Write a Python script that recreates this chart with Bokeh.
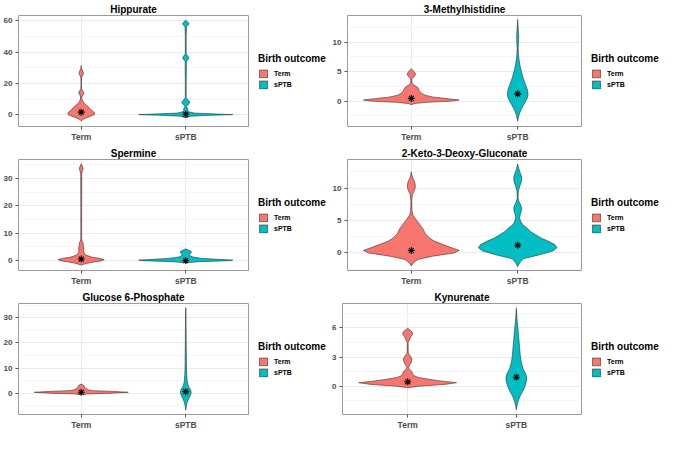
from bokeh.plotting import figure
from bokeh.models import FixedTicker, Legend, LegendItem, Range1d
from bokeh.layouts import column, row
from bokeh.embed import file_html
from bokeh.resources import INLINE

CATEGORIES = ["Term", "sPTB"]
COLORS = ["#F8766D", "#00BFC4"]
LEGEND_TITLE = "Birth outcome"

# ---- Hippurate ----
HIPP_TERM_Y = [-3.9, -3, -2, -1, 0, 1, 2, 3, 4.5, 6, 8, 10, 12, 13, 14, 15, 16.5, 20, 24, 25.5, 26.7, 28, 29.5, 31.5]
HIPP_TERM_W = [0, 0.02, 0.05, 0.09, 0.125, 0.128, 0.115, 0.095, 0.075, 0.05, 0.02, 0.006, 0.008, 0.02, 0.024, 0.018, 0.004, 0.002, 0.004, 0.016, 0.021, 0.014, 0.004, 0]
HIPP_SPTB_Y = [-2, -1, -0.4, 0, 0.4, 1, 2, 3, 3.5, 4.2, 5.5, 6.5, 8, 9.5, 11, 20, 34, 35.5, 36.5, 37.5, 39, 50, 56.5, 57.5, 58.4, 59.3, 60.5]
HIPP_SPTB_W = [0, 0.05, 0.25, 0.45, 0.3, 0.08, 0.02, 0.018, 0.024, 0.014, 0.006, 0.025, 0.04, 0.02, 0.004, 0.004, 0.006, 0.024, 0.03, 0.02, 0.004, 0.004, 0.008, 0.026, 0.03, 0.02, 0]
HIPP_MEDIANS = [1.6, 0.2]

# ---- 3-Methylhistidine ----
METH_TERM_Y = [-0.6, -0.4, -0.2, 0, 0.2, 0.4, 0.7, 1.0, 1.3, 1.6, 1.9, 2.2, 2.5, 2.8, 3.2, 3.8, 4.2, 4.6, 5.0, 5.5]
METH_TERM_W = [0, 0.03, 0.15, 0.38, 0.45, 0.35, 0.2, 0.13, 0.1, 0.08, 0.07, 0.065, 0.045, 0.015, 0.005, 0.006, 0.03, 0.04, 0.025, 0]
METH_SPTB_Y = [-3.4, -2.5, -1.5, -0.5, 0.5, 1.1, 2, 3, 4, 5, 6, 7, 8, 9, 10, 11, 12, 13, 13.8]
METH_SPTB_W = [0, 0.01, 0.03, 0.06, 0.09, 0.098, 0.09, 0.07, 0.05, 0.035, 0.022, 0.013, 0.007, 0.005, 0.008, 0.01, 0.006, 0.003, 0]
METH_MEDIANS = [0.46, 1.23]

# ---- Spermine ----
SPER_TERM_Y = [-1.6, -1, -0.5, 0, 0.4, 0.8, 1.3, 2, 2.6, 3.5, 4.5, 5.5, 6.5, 7.2, 8, 20, 32, 33, 33.8, 34.6, 35.4]
SPER_TERM_W = [0, 0.05, 0.12, 0.2, 0.22, 0.18, 0.1, 0.05, 0.03, 0.022, 0.025, 0.02, 0.018, 0.008, 0.004, 0.004, 0.005, 0.014, 0.018, 0.01, 0]
SPER_SPTB_Y = [-0.8, -0.4, 0, 0.2, 0.5, 0.9, 1.4, 2, 2.6, 3.0, 3.4, 3.9, 4.3]
SPER_SPTB_W = [0, 0.12, 0.42, 0.45, 0.3, 0.14, 0.06, 0.035, 0.04, 0.055, 0.05, 0.025, 0]
SPER_MEDIANS = [0.6, 0.05]

# ---- 2-Keto-3-Deoxy-Gluconate ----
KETO_TERM_Y = [-2, -1.5, -1, -0.5, 0, 0.4, 0.8, 1.3, 1.8, 2.3, 3, 3.7, 4.4, 5.1, 5.8, 6.5, 8, 9, 9.5, 10, 10.5, 11, 11.5, 12, 12.5]
KETO_TERM_W = [0, 0.02, 0.06, 0.2, 0.4, 0.45, 0.38, 0.3, 0.22, 0.17, 0.13, 0.11, 0.08, 0.046, 0.016, 0.006, 0.004, 0.01, 0.025, 0.036, 0.037, 0.03, 0.015, 0.005, 0]
KETO_SPTB_Y = [-2.1, -1.5, -0.9, -0.3, 0.3, 0.8, 1.3, 1.8, 2.3, 2.8, 3.3, 3.8, 4.3, 4.8, 5.4, 6, 6.5, 7, 7.5, 8, 8.5, 9.5, 10.3, 11, 11.7, 12.3, 13, 13.7]
KETO_SPTB_W = [0, 0.02, 0.05, 0.2, 0.33, 0.37, 0.35, 0.29, 0.22, 0.17, 0.12, 0.09, 0.05, 0.03, 0.018, 0.025, 0.035, 0.037, 0.025, 0.01, 0.004, 0.006, 0.02, 0.035, 0.037, 0.025, 0.01, 0]
KETO_MEDIANS = [0.38, 1.19]

# ---- Glucose 6-Phosphate ----
GLUC_TERM_Y = [-0.6, -0.3, 0, 0.35, 0.7, 1.0, 1.3, 1.7, 2.1, 2.5, 2.9, 3.3, 3.6]
GLUC_TERM_W = [0, 0.06, 0.3, 0.45, 0.3, 0.12, 0.07, 0.055, 0.035, 0.03, 0.028, 0.015, 0]
GLUC_SPTB_Y = [-6.7, -5, -3.5, -2, -0.8, 0.4, 1.5, 2.5, 3.5, 5, 7, 10, 14, 20, 26, 31, 34]
GLUC_SPTB_W = [0, 0.006, 0.015, 0.03, 0.045, 0.052, 0.045, 0.03, 0.02, 0.013, 0.01, 0.007, 0.006, 0.004, 0.003, 0.002, 0]
GLUC_MEDIANS = [0.36, 0.6]

# ---- Kynurenate ----
KYNU_TERM_Y = [-0.15, 0, 0.2, 0.37, 0.55, 0.75, 0.9, 1.1, 1.3, 1.5, 1.7, 1.9, 2.2, 2.5, 2.8, 3.1, 3.4, 4.5, 5.1, 5.3, 5.5, 5.7, 5.95]
KYNU_TERM_W = [0, 0.1, 0.35, 0.45, 0.3, 0.18, 0.1, 0.055, 0.045, 0.04, 0.02, 0.006, 0.02, 0.035, 0.04, 0.025, 0.005, 0.004, 0.03, 0.043, 0.045, 0.03, 0]
KYNU_SPTB_Y = [-2.4, -2, -1.5, -1, -0.5, 0, 0.5, 0.9, 1.3, 1.8, 2.5, 3.2, 4, 5, 6, 7, 8]
KYNU_SPTB_W = [0, 0.006, 0.018, 0.035, 0.06, 0.08, 0.093, 0.096, 0.085, 0.062, 0.045, 0.036, 0.03, 0.022, 0.014, 0.006, 0]
KYNU_MEDIANS = [0.46, 0.93]

PANELS = [
    ("Hippurate", (HIPP_TERM_Y, HIPP_TERM_W), (HIPP_SPTB_Y, HIPP_SPTB_W), HIPP_MEDIANS,
     (-7.6, 63.5), [0, 20, 40, 60], [10, 30, 50]),
    ("3-Methylhistidine", (METH_TERM_Y, METH_TERM_W), (METH_SPTB_Y, METH_SPTB_W), METH_MEDIANS,
     (-4.3, 14.5), [0, 5, 10], [-2.5, 2.5, 7.5, 12.5]),
    ("Spermine", (SPER_TERM_Y, SPER_TERM_W), (SPER_SPTB_Y, SPER_SPTB_W), SPER_MEDIANS,
     (-3.6, 37), [0, 10, 20, 30], [5, 15, 25, 35]),
    ("2-Keto-3-Deoxy-Gluconate", (KETO_TERM_Y, KETO_TERM_W), (KETO_SPTB_Y, KETO_SPTB_W), KETO_MEDIANS,
     (-2.7, 14.4), [0, 5, 10], [-2.5, 2.5, 7.5, 12.5]),
    ("Glucose 6-Phosphate", (GLUC_TERM_Y, GLUC_TERM_W), (GLUC_SPTB_Y, GLUC_SPTB_W), GLUC_MEDIANS,
     (-8.5, 35.7), [0, 10, 20, 30], [-5, 5, 15, 25, 35]),
    ("Kynurenate", (KYNU_TERM_Y, KYNU_TERM_W), (KYNU_SPTB_Y, KYNU_SPTB_W), KYNU_MEDIANS,
     (-2.9, 8.5), [0, 3, 6], [-1.5, 1.5, 4.5, 7.5]),
]
LEFT_BORDERS = [0, 17, 0, 17, 0, 13]

FONT = "Liberation Sans"
PANEL_H = 144
PANEL_W = [249, 253]
LEGEND_W = [80, 78]


def violin_outline(center, ys, ws):
    xs = [center + w for w in ws] + [center - w for w in reversed(ws)]
    yy = list(ys) + list(reversed(ys))
    return xs, yy


def make_panel(title, term, sptb, medians, yr, ticks, minor, width, left_w):
    p = figure(width=width, height=PANEL_H, output_backend="svg", toolbar_location=None,
               x_range=Range1d(0.4, 2.6), y_range=Range1d(*yr),
               min_border_left=left_w, min_border_right=1, min_border_top=0, min_border_bottom=0)
    p.title.text = title
    p.title.align = "center"
    p.title.text_font = FONT
    p.title.text_font_size = "10px"
    p.title.text_font_style = "bold"
    p.title.text_color = "black"
    p.title.offset = 0
    p.title.standoff = 2

    p.outline_line_color = "#9a9a9a"
    p.outline_line_width = 1
    p.background_fill_color = "white"

    p.xaxis.ticker = FixedTicker(ticks=[1, 2])
    p.xaxis.major_label_overrides = {1: CATEGORIES[0], 2: CATEGORIES[1]}
    p.yaxis.ticker = FixedTicker(ticks=ticks, minor_ticks=minor)
    for ax in (p.xaxis[0], p.yaxis[0]):
        ax.axis_line_color = None
        ax.major_tick_line_color = "#555555"
        ax.major_tick_in = 0
        ax.major_tick_out = 3
        ax.minor_tick_line_color = None
        ax.major_label_text_font = FONT
        ax.major_label_text_font_style = "bold"
        ax.major_label_text_color = "#4D4D4D"
        ax.major_label_standoff = 2
    p.xaxis.major_label_text_font_size = "8.5px"
    p.yaxis.major_label_text_font_size = "8px"

    p.xgrid.grid_line_color = "#EBEBEB"
    p.ygrid.grid_line_color = "#EBEBEB"
    p.ygrid.minor_grid_line_color = "#F5F5F5"

    for i, (ys, ws) in enumerate((term, sptb)):
        xs, yy = violin_outline(i + 1, ys, ws)
        p.patch(xs, yy, fill_color=COLORS[i], line_color="#333333", line_width=0.6)

    p.scatter([1, 2], medians, marker="asterisk", size=7, line_color="black", line_width=1.1)
    return p


def make_legend(width, term, sptb):
    # the legend's renderers reuse the violin outlines, drawn outside this figure's visible range
    q = figure(width=width, height=PANEL_H, output_backend="svg", toolbar_location=None,
               x_axis_type=None, y_axis_type=None, x_range=Range1d(100, 101), y_range=Range1d(100, 101),
               min_border_left=0, min_border_right=0, min_border_top=0, min_border_bottom=0)
    q.outline_line_color = None
    q.grid.visible = False
    rs = []
    for i, (ys, ws) in enumerate((term, sptb)):
        xs, yy = violin_outline(i + 1, ys, ws)
        rs.append(q.patch(xs, yy, fill_color=COLORS[i], line_color="#333333", line_width=0.6))
    legend = Legend(items=[LegendItem(label=CATEGORIES[i], renderers=[rs[i]]) for i in range(2)],
                    title=LEGEND_TITLE, location="center_left")
    legend.title_text_font = FONT
    legend.title_text_font_size = "10px"
    legend.title_text_font_style = "bold"
    legend.title_text_color = "black"
    legend.title_standoff = 5
    legend.label_text_font = FONT
    legend.label_text_font_size = "7px"
    legend.label_text_font_style = "bold"
    legend.label_text_color = "black"
    legend.label_height = 10
    legend.glyph_width = 10
    legend.glyph_height = 10
    legend.label_standoff = 6
    legend.spacing = 1
    legend.padding = 0
    legend.margin = 9
    legend.border_line_color = None
    legend.background_fill_alpha = 0
    q.add_layout(legend)
    return q


rows = []
for r in range(3):
    items = []
    for c in range(2):
        k = r * 2 + c
        args = PANELS[k]
        items.append(make_panel(*args, width=PANEL_W[c], left_w=LEFT_BORDERS[k]))
        items.append(make_legend(LEGEND_W[c], args[1], args[2]))
    rows.append(row(*items))

layout = column(*rows)

open("out.html", "w").write(file_html(layout, INLINE))
